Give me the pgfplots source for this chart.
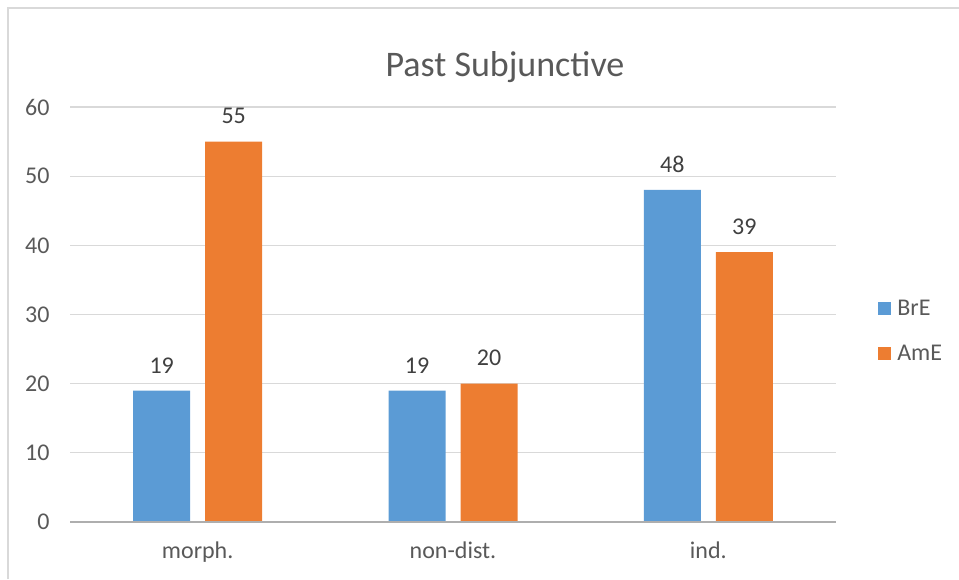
\documentclass[border=0pt]{standalone}
\usepackage{pgfplots}
\pgfplotsset{compat=1.18}
\usepackage{fontspec}
\setmainfont{Carlito}
\definecolor{bre}{HTML}{5B9BD5}
\definecolor{ame}{HTML}{ED7D31}
\definecolor{gridc}{HTML}{D9D9D9}
\definecolor{txt}{HTML}{595959}
\definecolor{lbl}{HTML}{404040}
\begin{document}
\begin{tikzpicture}[x=1pt,y=1pt]
\draw[gridc, line width=1.2pt] (8pt,0pt) -- (8pt,571pt) -- (959pt,571pt);
\node[txt, font=\fontsize{36}{40}\selectfont, anchor=base] at (505pt,502pt) {Past Subjunctive};
\begin{axis}[
  at={(70pt,57pt)}, anchor=south west,
  scale only axis, width=766pt, height=415pt,
  ymin=0, ymax=60, xmin=-0.5, xmax=2.5,
  ytick={0,10,...,60},
  xtick={0,1,2}, xticklabels={morph.,non-dist.,ind.},
  ybar, bar width=57pt,
  axis line style={draw=none},
  ymajorgrids, grid style={gridc, line width=1.2pt},
  major tick length=0pt,
  tick label style={txt, font=\fontsize{24}{26}\selectfont},
  /pgf/number format/assume math mode=true,
  yticklabel style={xshift=-17pt},
  xticklabel style={yshift=-16pt},
  nodes near coords,
  every node near coord/.append style={lbl, font=\fontsize{24}{26}\selectfont, yshift=14pt},
  legend style={at={(axis description cs:1.055,0.46)}, anchor=west, draw=none, fill=none, font=\fontsize{24}{26}\selectfont, text=txt, row sep=28pt, column sep=6pt, inner sep=0pt,
    nodes={inner sep=0pt}},
  legend cell align=left,
  legend image code/.code={\fill[#1] (0pt,-6.5pt) rectangle (13pt,6.5pt);},
]
\addplot[fill=bre, draw=none, bar shift=-36pt] coordinates {(0,19) (1,19) (2,48)};
\addplot[fill=ame, draw=none, bar shift=36pt] coordinates {(0,55) (1,20) (2,39)};
\legend{BrE, AmE}
\draw[color=gridc!80!black, line width=1.2pt] (axis cs:-0.5,0) -- (axis cs:2.5,0);
\end{axis}
\pgfresetboundingbox
\path[use as bounding box] (0pt,0pt) rectangle (959pt,579pt);
\end{tikzpicture}
\end{document}
